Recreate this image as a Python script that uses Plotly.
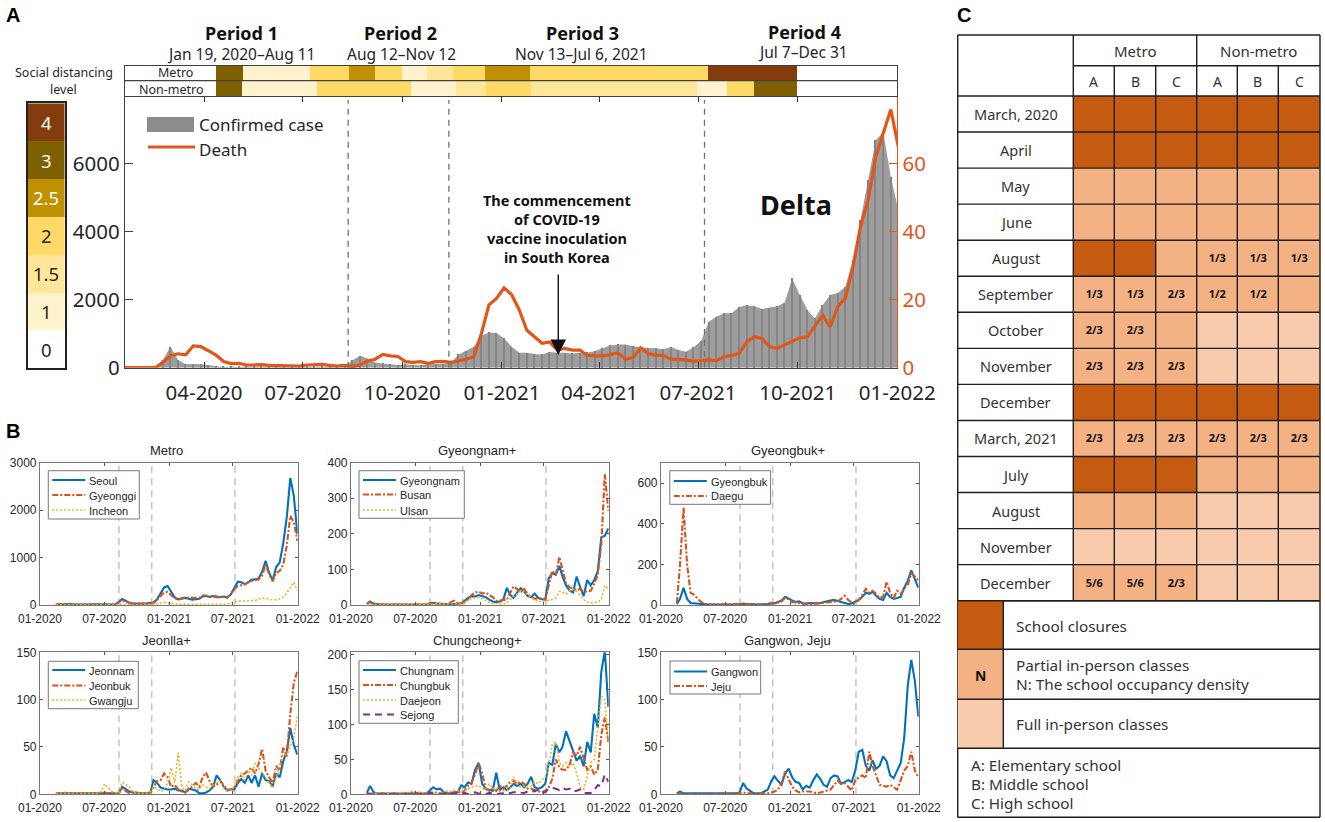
import pandas as pd
import plotly.graph_objects as go

W, H = 1325, 822
SANS = "Noto Sans"
ARIAL = "Liberation Sans"
INK = "#262626"
ORANGE = "#E0561B"

# ---------- Panel A data ----------
case_dates = pd.date_range("2020-01-19", periods=103, freq="7D").strftime("%Y-%m-%d").tolist()
confirmed_cases = [
    0, 0, 0, 0, 0, 225, 620, 225, 100, 110,
    100, 80, 40, 30, 30, 30, 30, 30, 30, 30,
    30, 30, 30, 30, 30, 30, 30, 30, 30, 40,
    220, 350, 270, 150, 125, 100, 80, 100, 80, 70,
    100, 110, 120, 155, 390, 500, 620, 940, 1040, 1020,
    860, 620, 440, 440, 400, 390, 460, 440, 440, 420,
    440, 450, 490, 570, 655, 685, 680, 630, 610, 580,
    570, 540, 610, 520, 470, 600, 790, 1350, 1500, 1600,
    1600, 1790, 1840, 1810, 1730, 1770, 1810, 1910, 2630, 2140,
    1700, 1450, 1840, 2140, 2200, 2380, 3170, 4340, 5520, 6690,
    6940, 5620, 4640]
deaths = [
    0, 0, 0, 0, 0, 1.6, 3.5, 4.1, 3.8, 6.4,
    6.2, 5, 3.7, 1.8, 1.2, 1.3, .8, .8, .9, .7,
    .7, .6, .7, .5, .8, 1, 1, .7, .5, .7,
    .3, .8, 2, 2.5, 3.9, 3.5, 3.3, 1.8, 1.6, 1.8,
    1.3, 1.8, 1.9, 1.6, 2, 2.5, 3.2, 10, 18.5, 20.4,
    23.5, 21.5, 17, 11, 9.1, 7.2, 7.6, 5.2, 5.7, 5.2,
    5.2, 3.6, 3.5, 3.5, 3.9, 4.4, 2.5, 3, 5.8, 4.2,
    3.7, 3.6, 2.5, 2.5, 2.3, 1.9, 2.2, 2.3, 2.1, 3.2,
    3.6, 4.2, 7.6, 9.1, 8.6, 6.2, 5.7, 6.7, 7.6, 8.8,
    9.1, 12.5, 15.5, 12, 17.9, 20.4, 29.7, 41.5, 49.3, 62,
    68.9, 76, 65]
assert len(case_dates) == len(confirmed_cases) == len(deaths) == 103

period_starts = ["2020-08-12", "2020-11-13", "2021-07-07"]
a_tick_dates = ["2020-04-01", "2020-07-01", "2020-10-01", "2021-01-01",
                "2021-04-01", "2021-07-01", "2021-10-01", "2022-01-01"]

level_names = ["0", "1", "1.5", "2", "2.5", "3", "4"]
level_colors = ["#FFFFFF", "#FFF2CC", "#FFE699", "#FFD966", "#BF9000", "#7F6000", "#843C0C"]
level_text = ["#262626", "#262626", "#262626", "#262626", "#FFFFFF", "#FFFFFF", "#FFFFFF"]

metro_edges = ["2020-01-19", "2020-04-12", "2020-05-07", "2020-07-08", "2020-08-13", "2020-09-06",
               "2020-10-01", "2020-10-24", "2020-11-17", "2020-12-16", "2021-01-27", "2021-07-10",
               "2021-09-30", "2022-01-01"]
metro_levels = ["0", "3", "1", "2", "2.5", "2", "1", "1.5", "2", "2.5", "2", "4", "0"]
nonmetro_edges = ["2020-01-19", "2020-04-12", "2020-05-06", "2020-07-14", "2020-10-09", "2020-11-20",
                  "2020-12-17", "2021-01-28", "2021-06-30", "2021-07-28", "2021-08-22", "2021-09-30",
                  "2022-01-01"]
nonmetro_levels = ["0", "3", "1", "2", "1", "1.5", "2", "1.5", "1", "2", "3", "0"]

# ---------- Panel B data ----------
b_dates = pd.date_range("2020-02-15", "2021-12-31", periods=70).strftime("%Y-%m-%d").tolist()
b_ticks = ["2020-01-01", "2020-07-01", "2021-01-01", "2021-07-01", "2022-01-01"]

seoul = [5, 10, 15, 10, 20, 15, 10, 8, 5, 8,
         15, 20, 25, 15, 10, 10, 15, 10, 60, 125,
         90, 45, 30, 25, 25, 30, 35, 40, 50, 120,
         250, 370, 400, 280, 160, 120, 130, 150, 130, 110,
         120, 130, 180, 190, 170, 190, 180, 170, 180, 160,
         220, 350, 490, 480, 440, 480, 530, 540, 560, 700,
         930, 680, 520, 800, 900, 1300, 1850, 2680, 2300, 1500]
gyeonggi = [15, 20, 25, 20, 15, 10, 8, 8, 8, 10,
            12, 15, 15, 10, 10, 12, 10, 10, 50, 100,
            70, 40, 25, 25, 25, 25, 30, 35, 45, 100,
            190, 260, 280, 210, 140, 120, 140, 160, 150, 150,
            140, 150, 200, 200, 180, 170, 170, 160, 170, 150,
            230, 330, 400, 420, 430, 480, 510, 530, 540, 620,
            850, 650, 500, 680, 720, 850, 1250, 1880, 1750, 1350]
incheon = [2, 3, 4, 3, 3, 2, 2, 2, 2, 3,
           3, 4, 4, 3, 3, 3, 3, 3, 8, 15,
           10, 6, 5, 5, 5, 6, 8, 10, 15, 25,
           40, 55, 45, 30, 20, 15, 15, 15, 15, 15,
           20, 20, 22, 25, 20, 20, 18, 18, 20, 15,
           40, 70, 80, 80, 85, 90, 90, 95, 120, 150,
           140, 120, 105, 110, 130, 170, 250, 370, 480, 300]
gyeongnam = [3, 10, 4, 2, 1, 1, 1, 1, 1, 1,
             1, 1, 1, 1, 1, 1, 1, 1, 4, 6,
             4, 3, 2, 2, 2, 3, 3, 5, 12, 20,
             25, 24, 28, 25, 22, 15, 10, 8, 10, 15,
             48, 28, 20, 35, 47, 38, 25, 22, 32, 20,
             16, 15, 75, 90, 85, 110, 80, 55, 40, 35,
             80, 50, 25, 70, 55, 70, 95, 190, 195, 215]
busan = [3, 8, 3, 1, 1, 1, 1, 1, 1, 1,
         1, 1, 1, 1, 1, 1, 1, 1, 5, 6,
         5, 3, 4, 3, 8, 12, 3, 5, 8, 15,
         28, 35, 38, 32, 35, 28, 22, 12, 12, 15,
         14, 35, 52, 45, 35, 45, 30, 22, 18, 18,
         18, 15, 55, 95, 85, 135, 100, 60, 50, 45,
         42, 45, 38, 38, 40, 60, 85, 170, 368, 265]
ulsan = [1, 2, 1, 1, 1, 1, 1, 1, 1, 1,
         1, 1, 1, 1, 1, 1, 1, 1, 2, 2,
         1, 1, 1, 1, 1, 1, 1, 3, 5, 15,
         18, 20, 22, 18, 12, 7, 4, 3, 2, 3,
         5, 15, 25, 30, 40, 38, 28, 20, 15, 10,
         10, 12, 12, 15, 20, 38, 36, 30, 40, 45,
         38, 28, 15, 8, 6, 7, 8, 15, 55, 45]
gyeongbuk = [5, 30, 85, 30, 10, 8, 5, 3, 2, 2,
             2, 2, 2, 2, 2, 2, 2, 2, 4, 6,
             4, 3, 3, 2, 2, 3, 5, 8, 8, 15,
             22, 40, 30, 22, 15, 18, 8, 6, 10, 8,
             8, 10, 15, 18, 22, 25, 20, 15, 10, 5,
             8, 15, 25, 40, 60, 55, 65, 45, 30, 25,
             60, 40, 30, 35, 40, 85, 120, 170, 130, 85]
daegu = [10, 200, 480, 200, 60, 50, 30, 15, 6, 3,
         2, 2, 2, 2, 2, 2, 2, 2, 5, 7,
         4, 2, 2, 2, 3, 4, 6, 8, 8, 12,
         18, 35, 28, 15, 12, 8, 6, 8, 5, 6,
         8, 10, 10, 12, 15, 15, 18, 30, 45, 25,
         12, 10, 25, 50, 80, 60, 70, 55, 35, 40,
         115, 60, 35, 70, 55, 80, 100, 155, 140, 120]
jeonnam = [1, 1, 1, 1, 1, 1, 1, 1, 1, 1,
           1, 1, 1, 1, 1, 1, 1, 1, 1, 8,
           5, 3, 2, 1, 1, 1, 1, 2, 15, 12,
           7, 6, 5, 5, 6, 4, 4, 2, 6, 5,
           4, 1, 1, 2, 4, 8, 20, 15, 8, 4,
           5, 5, 12, 16, 12, 20, 12, 20, 8, 22,
           15, 14, 8, 22, 18, 35, 45, 70, 52, 42]
jeonbuk = [1, 1, 1, 2, 1, 1, 1, 1, 1, 1,
           1, 1, 1, 1, 2, 1, 1, 1, 1, 6,
           3, 1, 3, 2, 1, 1, 1, 2, 8, 14,
           15, 22, 18, 8, 10, 5, 3, 2, 5, 8,
           12, 8, 18, 23, 14, 8, 10, 14, 10, 5,
           5, 7, 14, 20, 22, 25, 28, 22, 32, 48,
           25, 18, 12, 30, 25, 50, 40, 85, 118, 130]
gwangju = [1, 1, 1, 1, 1, 1, 1, 1, 1, 1,
           1, 1, 1, 3, 11, 7, 3, 2, 1, 13,
           10, 8, 2, 1, 1, 1, 1, 3, 8, 6,
           3, 5, 12, 28, 12, 44, 8, 4, 13, 10,
           6, 5, 10, 8, 6, 10, 13, 14, 7, 4,
           4, 8, 18, 22, 15, 25, 20, 33, 28, 22,
           18, 12, 7, 18, 30, 42, 42, 52, 60, 82]
chungnam = [2, 12, 3, 1, 1, 1, 1, 1, 1, 1,
            1, 1, 1, 1, 1, 1, 1, 1, 5, 10,
            7, 8, 3, 1, 1, 3, 3, 13, 10, 17,
            15, 35, 45, 15, 8, 6, 5, 31, 6, 10,
            6, 10, 15, 12, 15, 10, 15, 25, 10, 8,
            10, 15, 45, 42, 72, 60, 68, 90, 75, 60,
            48, 55, 40, 75, 60, 115, 95, 175, 205, 125]
chungbuk = [1, 1, 1, 1, 1, 1, 1, 1, 1, 1,
            1, 1, 1, 1, 1, 1, 1, 1, 2, 3,
            2, 1, 1, 2, 2, 3, 4, 2, 5, 12,
            17, 28, 45, 30, 8, 5, 8, 5, 12, 8,
            12, 18, 20, 15, 18, 15, 8, 8, 6, 5,
            3, 5, 10, 22, 50, 38, 35, 35, 42, 60,
            55, 68, 50, 35, 40, 28, 35, 85, 110, 75]
daejeon = [1, 1, 1, 1, 1, 1, 1, 1, 2, 2,
           3, 2, 3, 5, 4, 3, 2, 2, 1, 2,
           1, 1, 3, 5, 4, 6, 5, 3, 5, 8,
           10, 12, 12, 8, 7, 15, 8, 10, 4, 5,
           5, 8, 25, 15, 10, 12, 10, 12, 18, 15,
           20, 25, 40, 72, 75, 45, 40, 45, 40, 45,
           30, 10, 7, 25, 45, 50, 95, 140, 135, 75]
sejong = [1, 0, 0, 0, 0, 1, 0, 0, 0, 0,
          0, 1, 1, 1, 0, 0, 0, 0, 2, 1,
          0, 0, 1, 1, 0, 1, 0, 1, 2, 0,
          2, 3, 1, 0, 0, 2, 1, 0, 1, 1,
          1, 2, 3, 3, 3, 2, 4, 5, 4, 7,
          2, 3, 8, 9, 8, 6, 9, 7, 8, 4,
          5, 7, 2, 2, 2, 6, 13, 12, 28, 18]
gangwon = [1, 3, 1, 1, 1, 1, 1, 1, 1, 1,
           1, 1, 1, 1, 1, 1, 1, 1, 2, 12,
           6, 3, 1, 1, 1, 3, 5, 14, 19, 14,
           10, 22, 27, 18, 13, 12, 5, 9, 7, 15,
           21, 16, 10, 8, 17, 20, 19, 11, 13, 15,
           13, 25, 45, 47, 30, 25, 36, 27, 30, 40,
           35, 20, 17, 25, 33, 60, 115, 142, 120, 82]
jeju = [0, 1, 0, 0, 0, 0, 0, 0, 0, 0,
        1, 0, 1, 1, 0, 1, 0, 1, 1, 2,
        1, 1, 0, 0, 1, 1, 1, 2, 3, 5,
        12, 24, 15, 8, 4, 2, 3, 3, 3, 2,
        1, 2, 3, 4, 5, 10, 14, 11, 12, 8,
        4, 15, 18, 20, 17, 45, 30, 20, 10, 9,
        8, 10, 7, 5, 15, 25, 30, 45, 25, 18]

# ---------- Panel C data ----------
school_rows = ["March, 2020", "April", "May", "June", "August", "September", "October", "November",
               "December", "March, 2021", "July", "August", "November", "December"]
school_groups = ["Metro", "Non-metro"]
school_levels = ["A", "B", "C"]
school_colors = ["#F8CBAD", "#F4B183", "#C55A11"]
school_status = [
    [2, 2, 2, 2, 2, 2],
    [2, 2, 2, 2, 2, 2],
    [1, 1, 1, 1, 1, 1],
    [1, 1, 1, 1, 1, 1],
    [2, 2, 1, 1, 1, 1],
    [1, 1, 1, 1, 1, 1],
    [1, 1, 1, 0, 0, 0],
    [1, 1, 1, 0, 0, 0],
    [2, 2, 2, 2, 2, 2],
    [1, 1, 1, 1, 1, 1],
    [2, 2, 2, 1, 1, 1],
    [1, 1, 1, 0, 0, 0],
    [0, 0, 0, 0, 0, 0],
    [1, 1, 1, 0, 0, 0]]
school_density = [
    ["", "", "", "", "", ""],
    ["", "", "", "", "", ""],
    ["", "", "", "", "", ""],
    ["", "", "", "", "", ""],
    ["", "", "", "1/3", "1/3", "1/3"],
    ["1/3", "1/3", "2/3", "1/2", "1/2", ""],
    ["2/3", "2/3", "", "", "", ""],
    ["2/3", "2/3", "2/3", "", "", ""],
    ["", "", "", "", "", ""],
    ["2/3", "2/3", "2/3", "2/3", "2/3", "2/3"],
    ["", "", "", "", "", ""],
    ["", "", "", "", "", ""],
    ["", "", "", "", "", ""],
    ["5/6", "5/6", "2/3", "", "", ""]]


def fx(px):
    return px / W


def fy(py):
    return 1 - py / H


annotations, shapes = [], []


def note(text, x, y, size, color=INK, bold=False, anchor="center", font=SANS):
    annotations.append(dict(
        text=f"<b>{text}</b>" if bold else text, x=fx(x), y=fy(y), xref="paper", yref="paper",
        showarrow=False, xanchor=anchor, yanchor="middle", borderpad=0,
        font=dict(size=size, color=color, family=font)))


def rect(x0, y0, x1, y1, fill, edge=None):
    shapes.append(dict(type="rect", xref="paper", yref="paper", x0=fx(x0), x1=fx(x1), y0=fy(y0), y1=fy(y1),
                       fillcolor=fill, line=dict(width=1 if edge else 0, color=edge or fill), layer="above"))


def seg(x0, y0, x1, y1, color="#1f1f1f", width=1.4, dash="solid"):
    shapes.append(dict(type="line", xref="paper", yref="paper", x0=fx(x0), x1=fx(x1), y0=fy(y0), y1=fy(y1),
                       line=dict(color=color, width=width, dash=dash), layer="above"))


fig = go.Figure()
layout_axes = {}

# ---------- Panel A main ----------
A_L, A_R, A_T, A_B = 125, 897.3, 96, 367.7
x_range = ["2020-01-19", "2022-01-01"]
layout_axes["xaxis"] = dict(
    domain=[fx(A_L), fx(A_R)], range=x_range, type="date", tickvals=a_tick_dates, tickformat="%m-%Y",
    ticks="inside", ticklen=6, tickwidth=1.3, tickcolor="#333333", showline=True, linecolor="#404040", linewidth=1.3,
    mirror="ticks", showgrid=False, zeroline=False, ticklabelstandoff=7,
    tickfont=dict(size=20.5, family=SANS, color=INK), anchor="y")
layout_axes["yaxis"] = dict(
    domain=[fy(A_B), fy(A_T)], range=[0, 8000], tickvals=[0, 2000, 4000, 6000],
    ticks="inside", ticklen=8, tickwidth=1.1, tickcolor="#404040", showline=True, linecolor="#404040", linewidth=1.3,
    showgrid=False, zeroline=False, tickfont=dict(size=20.5, family=SANS, color=INK), anchor="x")
layout_axes["yaxis2"] = dict(
    range=[0, 80], tickvals=[0, 20, 40, 60], overlaying="y", side="right", anchor="x",
    ticks="inside", ticklen=8, tickwidth=1.1, tickcolor=ORANGE, showline=True, linecolor=ORANGE, linewidth=1.3,
    showgrid=False, zeroline=False, tickfont=dict(size=20.5, family=SANS, color=ORANGE))

fig.add_trace(go.Bar(x=case_dates, y=confirmed_cases, name="Confirmed case", width=1.3 * 86400000,
                     marker=dict(color="#7d7d7d", line=dict(width=0)),
                     xaxis="x", yaxis="y", showlegend=False))
fig.add_trace(go.Scatter(x=case_dates, y=confirmed_cases, name="Confirmed case", mode="none", fill="tozeroy",
                         fillcolor="rgba(135,135,135,0.82)", xaxis="x", yaxis="y", showlegend=False))
fig.add_trace(go.Scatter(x=case_dates, y=deaths, name="Death", mode="lines", xaxis="x", yaxis="y2",
                         line=dict(color=ORANGE, width=3.2), showlegend=False))
for d in period_starts:
    shapes.append(dict(type="line", xref="x", yref="y", x0=d, x1=d, y0=0, y1=7880, layer="above",
                       line=dict(color="#707070", width=1.3, dash="6px,5px")))

annotations.append(dict(x="2021-02-22", y=375, xref="x", yref="y", text="", showarrow=True, ax=0, ay=-82,
                        arrowhead=2, arrowsize=2.2, arrowwidth=1.4, arrowcolor="#111111"))

# panel A legend
rect(147, 117, 194, 132, "#8c8c8c")
seg(148, 147, 195, 147, ORANGE, 3)
note("Confirmed case", 198, 125, 17, anchor="left")
note("Death", 198, 149, 17, anchor="left")

# texts of panel A
for t, x, y in [("Period 1", 241, 33), ("Period 2", 400.5, 33), ("Period 3", 582, 33), ("Period 4", 804, 32)]:
    note(t, x, y, 18, color="#111111", bold=True)
for t, x, y in [("Jan 19, 2020–Aug 11", 241, 53.5), ("Aug 12–Nov 12", 401, 53.5),
                ("Nov 13–Jul 6, 2021", 581, 53.5), ("Jul 7–Dec 31", 803.5, 52.5)]:
    note(t, x, y, 15.5)
for t, y in [("The commencement", 200), ("of COVID-19", 219), ("vaccine inoculation", 238), ("in South Korea", 257)]:
    note(t, 556.7, y, 14.5, color="#111111", bold=True)
note("Delta", 796, 205, 27, color="#111111", bold=True)
note("Social distancing", 64, 72.5, 12.5)
note("level", 63, 89, 12.5)
note("A", 13, 15, 20, color="#000000", bold=True, font=ARIAL)
note("B", 13, 431, 20, color="#000000", bold=True, font=ARIAL)
note("C", 964, 15, 20, color="#000000", bold=True, font=ARIAL)

# ---------- social distancing strip ----------
layout_axes["xaxis3"] = dict(domain=[fx(A_L), fx(A_R)], range=x_range, type="date", anchor="y3", showticklabels=False,
                             ticks="", showline=True, mirror=True, linecolor="#404040", linewidth=1.3, showgrid=False,
                             zeroline=False)
layout_axes["yaxis3"] = dict(domain=[fy(96), fy(66)], range=[1.5, -0.5], anchor="x3", showticklabels=False, ticks="",
                             showline=True, mirror=True, linecolor="#404040", linewidth=1.3, showgrid=False,
                             zeroline=False, type="linear")
for row, (edges, levels) in enumerate([(metro_edges, metro_levels), (nonmetro_edges, nonmetro_levels)]):
    starts = pd.to_datetime(edges[:-1])
    ends = pd.to_datetime(edges[1:])
    fig.add_trace(go.Bar(
        y=[row] * len(levels), x=[(e - s).total_seconds() * 1000 for s, e in zip(starts, ends)],
        base=[s.strftime("%Y-%m-%d") for s in starts], orientation="h", width=1,
        marker=dict(color=[level_colors[level_names.index(v)] for v in levels], line=dict(width=0)),
        xaxis="x3", yaxis="y3", showlegend=False, name=["Metro", "Non-metro"][row]))
seg(A_L, 80.7, A_R, 80.7, "#404040", 1.3)
note("Metro", 175, 72.5, 12.5)
note("Non-metro", 171, 89, 12.5)

# ---------- colour key ----------
layout_axes["xaxis10"] = dict(domain=[fx(28), fx(64.5)], range=[-0.5, 0.5], anchor="y10", showticklabels=False,
                              ticks="", showline=True, mirror=True, linecolor="#222222", linewidth=1.5, showgrid=False,
                              zeroline=False)
layout_axes["yaxis10"] = dict(domain=[fy(368.3), fy(103.3)], range=[-0.5, 6.5], anchor="x10", showticklabels=False,
                              ticks="", showline=True, mirror=True, linecolor="#222222", linewidth=1.5, showgrid=False,
                              zeroline=False)
n = len(level_colors)
key_scale = []
for i, c in enumerate(level_colors):
    key_scale += [[i / n, c], [(i + 1) / n, c]]
fig.add_trace(go.Heatmap(x=[0], y=list(range(n)), z=[[i] for i in range(n)], zmin=-0.5, zmax=n - 0.5,
                         colorscale=key_scale, showscale=False, xaxis="x10", yaxis="y10", name="Level"))
for i, t in enumerate(level_names):
    annotations.append(dict(text=t, x=0, y=i, xref="x10", yref="y10", showarrow=False, xanchor="center",
                            font=dict(size=18.5, family=SANS, color=level_text[i])))

# ---------- Panel B ----------
BLUE, RED, YEL, PUR = "#0072BD", "#D95319", "#EDB120", "#7E2F8E"
STYLE = [dict(color=BLUE, width=2.1), dict(color=RED, width=2.1, dash="6px,2px,2px,2px"),
         dict(color=YEL, width=1.6, dash="2px,2px"), dict(color=PUR, width=2, dash="7px,5px")]
panels = [
    ("Metro", [("Seoul", seoul), ("Gyeonggi", gyeonggi), ("Incheon", incheon)], 3000, [0, 1000, 2000, 3000], 40, 462.7, 605,
     (48.3, 470.7, 139.3, 519), [480, 495, 510]),
    ("Gyeongnam+", [("Gyeongnam", gyeongnam), ("Busan", busan), ("Ulsan", ulsan)], 400, [0, 100, 200, 300, 400], 351, 462.7, 605,
     (359, 470.7, 464.3, 518.3), [480, 494.5, 510]),
    ("Gyeongbuk+", [("Gyeongbuk", gyeongbuk), ("Daegu", daegu)], 700, [0, 200, 400, 600], 661, 462.7, 605,
     (669.8, 470.7, 770.6, 504.3), [481, 496]),
    ("Jeonlla+", [("Jeonnam", jeonnam), ("Jeonbuk", jeonbuk), ("Gwangju", gwangju)], 150, [0, 50, 100, 150], 40, 652.3, 794.3,
     (48.3, 661.3, 138.3, 708.7), [670, 685.5, 700]),
    ("Chungcheong+", [("Chungnam", chungnam), ("Chungbuk", chungbuk), ("Daejeon", daejeon), ("Sejong", sejong)],
     203, [0, 50, 100, 150, 200], 351, 652.3, 794.3,
     (359, 660.7, 458.3, 723.3), [670, 685, 700, 714.5]),
    ("Gangwon, Jeju", [("Gangwon", gangwon), ("Jeju", jeju)], 150, [0, 50, 100, 150], 661, 652.3, 794.3,
     (670, 661, 760.7, 694), [671.5, 686]),
]
for p, (title, series, ymax, yticks, left, top, bottom, box, rows) in enumerate(panels):
    xn, yn = f"x{20 + p}", f"y{20 + p}"
    layout_axes[f"xaxis{20 + p}"] = dict(
        domain=[fx(left), fx(left + 257.7)], range=["2020-01-01", "2022-01-01"], type="date", tickvals=b_ticks,
        tickformat="%m-%Y", ticks="inside", ticklen=3, tickcolor="#555555", showline=True, mirror="ticks",
        linecolor="#777777", linewidth=1.2, showgrid=False, zeroline=False, anchor=yn, ticklabelstandoff=2,
        tickfont=dict(size=12, family=ARIAL, color=INK))
    layout_axes[f"yaxis{20 + p}"] = dict(
        domain=[fy(bottom), fy(top)], range=[0, ymax], tickvals=yticks, ticks="inside", ticklen=3, tickcolor="#555555",
        showline=True, mirror="ticks", linecolor="#777777", linewidth=1.2, showgrid=False, zeroline=False, anchor=xn,
        tickfont=dict(size=12, family=ARIAL, color=INK))
    for name, vals in series:
        assert len(vals) == len(b_dates), name
    for d in period_starts:
        shapes.append(dict(type="line", xref=xn, yref=yn, x0=d, x1=d, y0=0, y1=ymax, layer="below",
                           line=dict(color="#c4c4c4", width=1.5, dash="7px,5px")))
    for k, (name, vals) in enumerate(series):
        fig.add_trace(go.Scatter(x=b_dates, y=vals, name=name, mode="lines", line=STYLE[k], xaxis=xn, yaxis=yn,
                                 showlegend=False))
    rect(box[0], box[1], box[2], box[3], "#FFFFFF", edge="#777777")
    for k, ((name, _), yrow) in enumerate(zip(series, rows)):
        seg(box[0] + 4, yrow, box[0] + 37, yrow, STYLE[k]["color"], STYLE[k]["width"], STYLE[k].get("dash", "solid"))
        note(name, box[0] + 40, yrow + 0.5, 11, anchor="left", font=ARIAL)
    note(title, left + 126.5, top - 12, 13, font=ARIAL)

# ---------- Panel C ----------
C_L, C_R = 957.7, 1320
C_X = [1073.3, 1114.3, 1155.7, 1196.7, 1237.3, 1278.3, 1320]
C_T, C_B = 96, 600.7
layout_axes["xaxis11"] = dict(domain=[fx(C_X[0]), fx(C_X[-1])], range=[-0.5, 5.5], anchor="y11", visible=False)
layout_axes["yaxis11"] = dict(domain=[fy(C_B), fy(C_T)], range=[13.5, -0.5], anchor="x11", visible=False)
m = len(school_colors)
school_scale = []
for i, c in enumerate(school_colors):
    school_scale += [[i / m, c], [(i + 1) / m, c]]
fig.add_trace(go.Heatmap(
    x=list(range(6)), y=list(range(len(school_rows))), z=school_status, zmin=-0.5, zmax=m - 0.5,
    colorscale=school_scale, showscale=False, text=school_density, texttemplate="<b>%{text}</b>",
    textfont=dict(size=11, family=SANS, color="#111111"), xaxis="x11", yaxis="y11", name="School"))
for i, t in enumerate(school_rows):
    annotations.append(dict(text=t, x=fx((C_L + C_X[0]) / 2), y=i, xref="paper", yref="y11", showarrow=False,
                            xanchor="center", font=dict(size=14.5, family=SANS, color="#333333")))

row_h = (C_B - C_T) / 14
for i in range(15):
    seg(C_L, C_T + i * row_h, C_R, C_T + i * row_h)
for x in C_X:
    seg(x, 65.7, x, C_B)
seg(C_X[0], 35, C_X[0], 66)
seg(C_X[3], 35, C_X[3], 66)
seg(C_R, 35, C_R, 66)
seg(C_L, 35, C_R, 35)
seg(C_X[0], 65.7, C_R, 65.7)
seg(C_L, 35, C_L, 817.3)
seg(C_R, C_B, C_R, 817.3)
for k, g in enumerate(school_groups):
    note(g, (C_X[3 * k] + C_X[3 * k + 3]) / 2, 51, 15, color="#333333")
for k in range(6):
    note(school_levels[k % 3], (C_X[k] + C_X[k + 1]) / 2, 82, 14, color="#333333")

rect(C_L, 600.7, 1003.3, 649.3, school_colors[2])
rect(C_L, 649.3, 1003.3, 699.3, school_colors[1])
rect(C_L, 699.3, 1003.3, 748.3, school_colors[0])
for y in [600.7, 649.3, 699.3, 748.3, 817.3]:
    seg(C_L, y, C_R, y)
seg(1003.3, 600.7, 1003.3, 748.3)
note("N", 980.5, 675, 14, color="#111111", bold=True)
note("School closures", 1015, 626, 15.3, color="#333333", anchor="left")
note("Partial in-person classes", 1015, 665, 15.3, color="#333333", anchor="left")
note("N: The school occupancy density", 1015, 684, 15.3, color="#333333", anchor="left")
note("Full in-person classes", 1015, 724, 15.3, color="#333333", anchor="left")
note("A: Elementary school", 970, 765, 15.3, color="#333333", anchor="left")
note("B: Middle school", 970, 784, 15.3, color="#333333", anchor="left")
note("C: High school", 970, 803, 15.3, color="#333333", anchor="left")

fig.update_layout(
    width=W, height=H, margin=dict(l=0, r=0, t=0, b=0, autoexpand=False), paper_bgcolor="#FFFFFF", plot_bgcolor="#FFFFFF",
    barmode="overlay", bargap=0, showlegend=False, annotations=annotations, shapes=shapes,
    **layout_axes)

fig.write_html("out.html", config={"displayModeBar": False}, post_script="document.body.style.margin='0';")
